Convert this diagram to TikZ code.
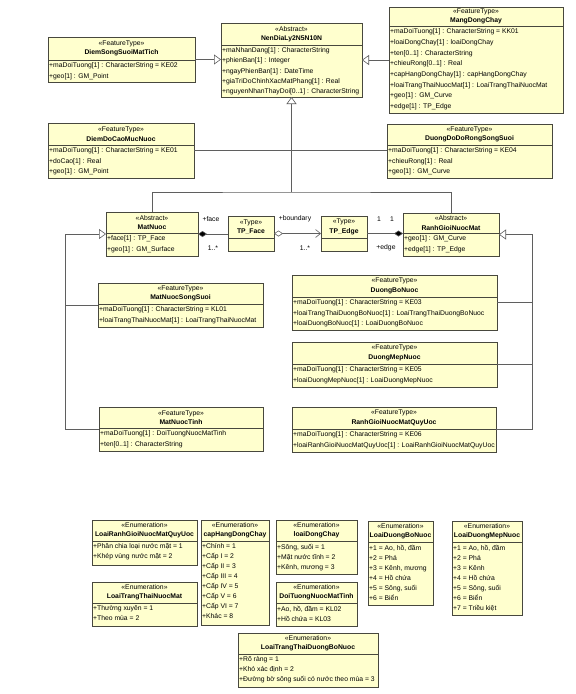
\documentclass[tikz,border=0pt]{standalone}
\usepackage{fontspec}
\setmainfont{Liberation Sans}
\usetikzlibrary{arrows.meta,calc}
\definecolor{boxfill}{RGB}{255,255,206}
\definecolor{boxline}{RGB}{72,72,62}
\definecolor{connc}{RGB}{95,95,95}
\def\rp{10.5}
% #1 name, #2 x1, #3 y1, #4 x2, #5 y2, #6 ydiv, #7 stereotype, #8 title, #9 attributes
\newcommand{\ucls}[9]{%
  \pgfmathsetmacro\uw{#4-#2}%
  \pgfmathsetmacro\uh{#5-#3}%
  \pgfmathsetmacro\uhy{(#3+#6)/2}%
  \pgfmathsetmacro\uxm{(#2+#4)/2}%
  \node[clsbox, minimum width=\uw pt, minimum height=\uh pt, anchor=north west] (#1) at (#2,#3) {};
  \draw[boxborder] (#2,#6) -- (#4,#6);
  \node[hdr] (#1h) at (\uxm,\uhy) {«#7»\\\textbf{#8}};
  \node[attrs] (#1a) at (#2,#6) {#9};
}
\begin{document}
\begin{tikzpicture}[x=1pt,y=-1pt,
  clsbox/.style={draw=boxline, fill=boxfill, line width=0.8pt, inner sep=0pt, outer sep=0pt},
  boxborder/.style={draw=boxline, line width=0.8pt},
  hdr/.style={align=center, inner sep=0pt, font=\fontsize{6.8}{9.4}\selectfont},
  attrs/.style={anchor=north west, align=left, inner sep=0pt, xshift=1pt, yshift=-2.6pt, font=\fontsize{6.8}{\rp}\selectfont},
  conn/.style={draw=connc, line width=0.6pt},
  gen/.style={conn, -{Triangle[open, fill=white, length=7pt, width=10pt]}},
  lbl/.style={inner sep=0pt, font=\fontsize{6.8}{8}\selectfont}
]
\fill[white] (0,0) rectangle (576,694);
\useasboundingbox (0,0) rectangle (576,694);

% ---------- upper classes ----------
\ucls{DiemSongSuoiMatTich}{48}{37}{195}{82}{60}{FeatureType}{DiemSongSuoiMatTich}{+maDoiTuong[1] : CharacterString = KE02\\+geo[1] : GM\_Point}
\def\rp{10.2}
\ucls{NenDiaLy}{221}{23}{362}{97}{45}{Abstract}{NenDiaLy2N5N10N}{+maNhanDang[1] : CharacterString\\+phienBan[1] : Integer\\+ngayPhienBan[1] : DateTime\\+giaTriDoChinhXacMatPhang[1] : Real\\+nguyenNhanThayDoi[0..1] : CharacterString}
\def\rp{10.7}
\ucls{MangDongChay}{389}{7}{563}{113}{26}{FeatureType}{MangDongChay}{+maDoiTuong[1] : CharacterString = KK01\\+loaiDongChay[1] : loaiDongChay\\+ten[0..1] : CharacterString\\+chieuRong[0..1] : Real\\+capHangDongChay[1] : capHangDongChay\\+loaiTrangThaiNuocMat[1] : LoaiTrangThaiNuocMat\\+geo[1] : GM\_Curve\\+edge[1] : TP\_Edge}
\def\rp{10.5}
\ucls{DiemDoCaoMucNuoc}{48}{123}{194}{178}{145}{FeatureType}{DiemDoCaoMucNuoc}{+maDoiTuong[1] : CharacterString = KE01\\+doCao[1] : Real\\+geo[1] : GM\_Point}
\ucls{DuongDoDoRongSongSuoi}{387}{124}{552}{178}{145}{FeatureType}{DuongDoDoRongSongSuoi}{+maDoiTuong[1] : CharacterString = KE04\\+chieuRong[1] : Real\\+geo[1] : GM\_Curve}
\ucls{MatNuoc}{106}{212}{198}{256}{233}{Abstract}{MatNuoc}{+face[1] : TP\_Face\\+geo[1] : GM\_Surface}
\ucls{TPFace}{228}{216}{274}{251}{238}{Type}{TP\_Face}{}
\ucls{TPEdge}{321}{216}{367}{251}{238}{Type}{TP\_Edge}{}
\ucls{RanhGioiNuocMat}{403}{213}{499}{256}{233}{Abstract}{RanhGioiNuocMat}{+geo[1] : GM\_Curve\\+edge[1] : TP\_Edge}
\ucls{MatNuocSongSuoi}{98}{283}{263}{327}{304}{FeatureType}{MatNuocSongSuoi}{+maDoiTuong[1] : CharacterString = KL01\\+loaiTrangThaiNuocMat[1] : LoaiTrangThaiNuocMat}
\ucls{DuongBoNuoc}{292}{275}{497}{330}{297}{FeatureType}{DuongBoNuoc}{+maDoiTuong[1] : CharacterString = KE03\\+loaiTrangThaiDuongBoNuoc[1] : LoaiTrangThaiDuongBoNuoc\\+loaiDuongBoNuoc[1] : LoaiDuongBoNuoc}
\ucls{DuongMepNuoc}{292}{342}{497}{387}{364}{FeatureType}{DuongMepNuoc}{+maDoiTuong[1] : CharacterString = KE05\\+loaiDuongMepNuoc[1] : LoaiDuongMepNuoc}
\ucls{MatNuocTinh}{99}{407}{263}{451}{428}{FeatureType}{MatNuocTinh}{+maDoiTuong[1] : DoiTuongNuocMatTinh\\+ten[0..1] : CharacterString}
\ucls{RanhGioiNuocMatQuyUoc}{292}{407}{496}{452}{429}{FeatureType}{RanhGioiNuocMatQuyUoc}{+maDoiTuong[1] : CharacterString = KE06\\+loaiRanhGioiNuocMatQuyUoc[1] : LoaiRanhGioiNuocMatQuyUoc}

% ---------- enumerations ----------
\def\rp{10}
\ucls{EnumRGQU}{92}{520}{197}{565}{541}{Enumeration}{LoaiRanhGioiNuocMatQuyUoc}{+Phân chia loại nước mặt = 1\\+Khép vùng nước mặt = 2}
\ucls{EnumTTNM}{92}{582}{197}{626}{603}{Enumeration}{LoaiTrangThaiNuocMat}{+Thường xuyên = 1\\+Theo mùa = 2}
\ucls{EnumCHDC}{201}{520}{269}{625}{541}{Enumeration}{capHangDongChay}{+Chính = 1\\+Cấp I = 2\\+Cấp II = 3\\+Cấp III = 4\\+Cấp IV = 5\\+Cấp V = 6\\+Cấp VI = 7\\+Khác = 8}
\ucls{EnumLDC}{276}{520}{357}{574}{541}{Enumeration}{loaiDongChay}{+Sông, suối = 1\\+Mặt nước tĩnh = 2\\+Kênh, mương = 3}
\ucls{EnumDTNMT}{276}{582}{357}{626}{603}{Enumeration}{DoiTuongNuocMatTinh}{+Ao, hồ, đầm = KL02\\+Hồ chứa = KL03}
\ucls{EnumLDBN}{368}{521}{433}{605}{542}{Enumeration}{LoaiDuongBoNuoc}{+1 = Ao, hồ, đầm\\+2 = Phá\\+3 = Kênh, mương\\+4 = Hồ chứa\\+5 = Sông, suối\\+6 = Biển}
\ucls{EnumLDMN}{452}{521}{522}{615}{542}{Enumeration}{LoaiDuongMepNuoc}{+1 = Ao, hồ, đầm\\+2 = Phá\\+3 = Kênh\\+4 = Hồ chứa\\+5 = Sông, suối\\+6 = Biển\\+7 = Triều kiệt}
\ucls{EnumTTDBN}{238}{633}{378}{687}{654}{Enumeration}{LoaiTrangThaiDuongBoNuoc}{+Rõ ràng = 1\\+Khó xác định = 2\\+Đường bờ sông suối có nước theo mùa = 3}

% ---------- generalisations ----------
\coordinate (j1) at (291.5,192);
\coordinate (lvx) at (65,300);
\coordinate (rvx) at (532,300);
\draw[gen] (DiemSongSuoiMatTich.east) -- (DiemSongSuoiMatTich.east -| NenDiaLy.west);
\draw[gen] (MangDongChay.west |- NenDiaLy.east) -- (NenDiaLy.east);
\draw[conn] (DiemDoCaoMucNuoc.east) -- (DiemDoCaoMucNuoc.east -| DuongDoDoRongSongSuoi.west);
\draw[conn] (MatNuoc.north) |- (j1) -| (RanhGioiNuocMat.north);
\draw[gen] (j1) -- (NenDiaLy.south);
\draw[gen] (MatNuocTinh.west) -- (MatNuocTinh.west -| lvx) |- (MatNuoc.west);
\draw[conn] (MatNuocSongSuoi.west) -- (MatNuocSongSuoi.west -| lvx);
\draw[gen] (RanhGioiNuocMatQuyUoc.east) -- (RanhGioiNuocMatQuyUoc.east -| rvx) |- (RanhGioiNuocMat.east);
\draw[conn] (DuongBoNuoc.east) -- (DuongBoNuoc.east -| rvx);
\draw[conn] (DuongMepNuoc.east) -- (DuongMepNuoc.east -| rvx);

% ---------- associations ----------
\draw[conn, {Diamond[length=9pt, width=6pt, fill=black]}-] (MatNuoc.east) -- (MatNuoc.east -| TPFace.west);
\draw[conn, {Diamond[open, fill=white, length=9pt, width=6pt]}-{Straight Barb[length=5pt, width=8pt]}] (TPFace.east) -- (TPEdge.west);
\draw[conn, -{Diamond[length=9pt, width=6pt, fill=black]}] (TPEdge.east) -- (TPEdge.east -| RanhGioiNuocMat.west);
\node[lbl] (lface) at (211,219) {+face};
\node[lbl] (lfacem) at (213,248) {1..*};
\node[lbl] (lbound) at (295,219) {+boundary};
\node[lbl] (lboundm) at (305,248) {1..*};
\node[lbl] (lone1) at (379,219) {1};
\node[lbl] (lone2) at (392,219) {1};
\node[lbl] (ledge) at (386,248) {+edge};
\end{tikzpicture}
\end{document}
